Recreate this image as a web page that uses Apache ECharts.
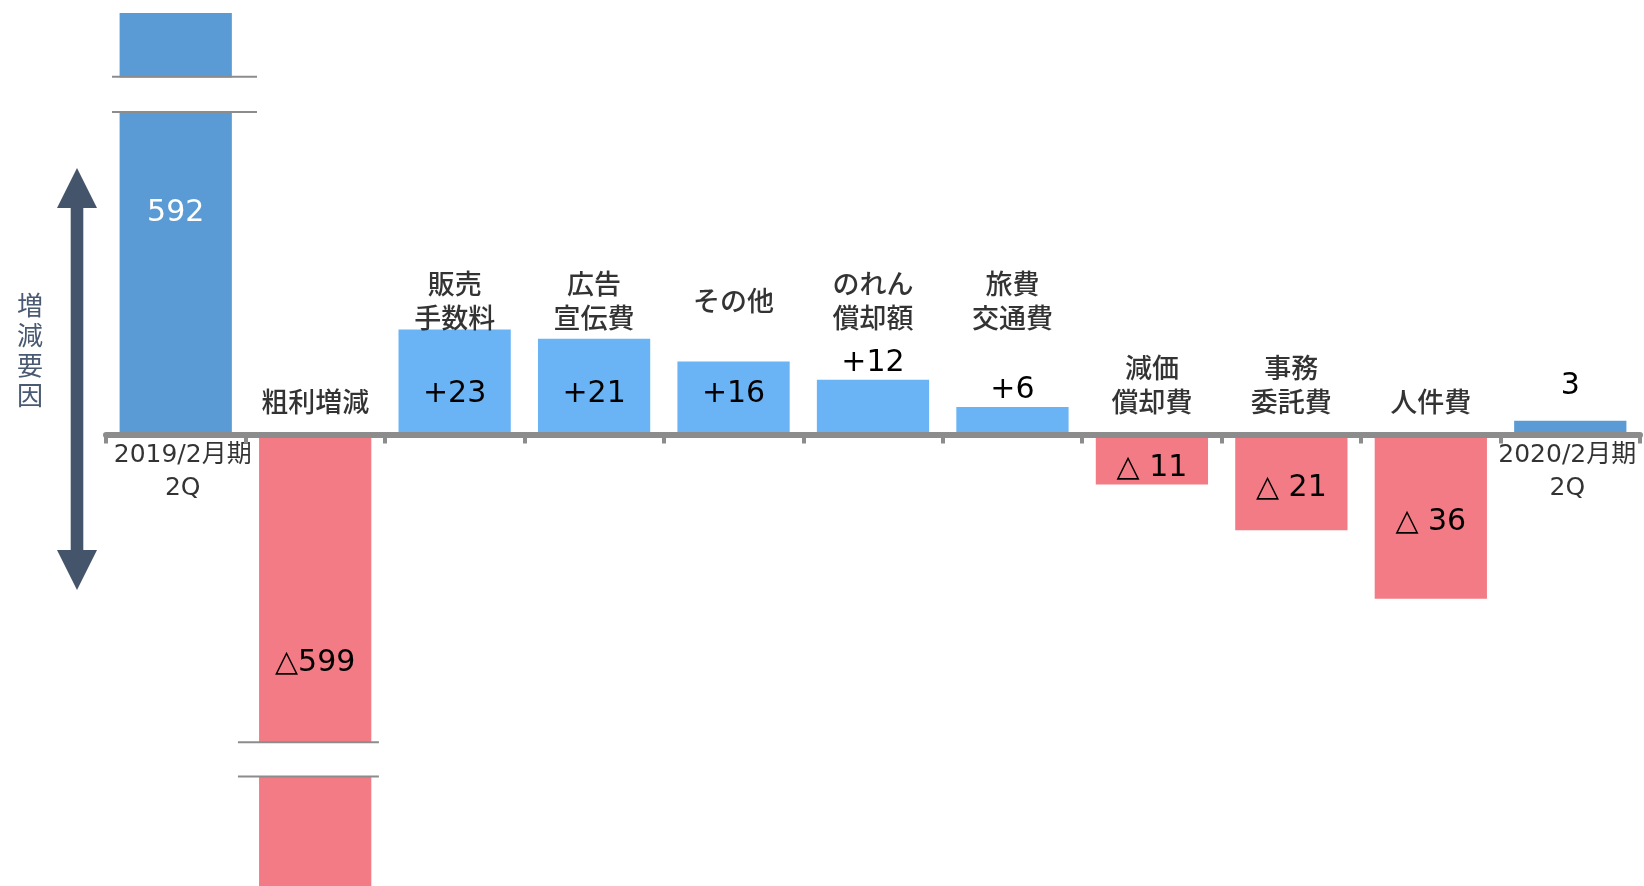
<!DOCTYPE html>
<html>
<head>
<meta charset="utf-8">
<script src="https://cdn.jsdelivr.net/npm/echarts@6/dist/echarts.min.js"></script>
<style>html,body{margin:0;padding:0;background:#fff}#c{width:1644px;height:886px}</style>
</head>
<body>
<div id="c"></div>
<script>
// ---- data ----
const categories = ['2019/2月期\n2Q', '粗利増減', '販売\n手数料', '広告\n宣伝費', 'その他', 'のれん\n償却額', '旅費\n交通費', '減価\n償却費', '事務\n委託費', '人件費', '2020/2月期\n2Q'];
const values = [592, -599, 23, 21, 16, 12, 6, -11, -21, -36, 3];
const valueLabels = ['592', '△599', '+23', '+21', '+16', '+12', '+6', '△ 11', '△ 21', '△ 36', '3'];
const xTickLabels = ['2019/2月期\n2Q', '', '', '', '', '', '', '', '', '', '2020/2月期\n2Q'];
const sideTitle = '増減要因';

// ---- styles ----
const FONT = "'DejaVu Sans','Noto Sans CJK JP',sans-serif";
const C_BASE = '#5B9BD5', C_UP = '#6AB4F5', C_DOWN = '#F37B85', C_AXIS = '#8C8C8C';
const TXT = '#000';
const last = values.length - 1;

const breaks = [
  { start: 70.7, end: 578, gap: 7.7 },
  { start: -575, end: -67.5, gap: 7.5 }
];

function barItem(v, i) {
  const isEnd = (i === 0 || i === last);
  const color = isEnd ? C_BASE : (v >= 0 ? C_UP : C_DOWN);
  let label = { show: true, formatter: valueLabels[i], fontFamily: FONT, fontSize: 30, lineHeight: 30, color: TXT, textBorderWidth: 0 };
  if (i === 0) Object.assign(label, { position: 'inside', color: '#fff', offset: [0, -11] });
  else if (i === last) Object.assign(label, { position: 'top', distance: 20 });
  else if (v >= 15) Object.assign(label, { position: 'insideBottom', distance: 25 });
  else if (v > 0) Object.assign(label, { position: 'top', distance: 2 });
  else if (v < -100) Object.assign(label, { position: 'inside', offset: [0, 3] });
  else Object.assign(label, { position: 'inside', offset: [0, v > -15 ? 9 : 6] });
  return { value: v, itemStyle: { color }, label };
}

// category name labels (above the zero line) and end tick labels (below it)
const nameData = [];
categories.forEach((c, i) => {
  if (i === 0 || i === last) {
    nameData.push({
      value: [i, 0],
      label: { formatter: xTickLabels[i], fontSize: 25, lineHeight: 33, fontWeight: 400, offset: [i === 0 ? 7 : -3, 38] }
    });
    return;
  }
  const lines = c.split('\n').length;
  const dy = values[i] > 0 ? -130 : -(29 + (lines - 1) * 17);
  nameData.push({ value: [i, 0], label: { formatter: c, offset: [0, dy] } });
});

// break edge lines (category index, axis value, left/right extent as fraction of band)
const breakLines = [
  [0, breaks[0].end, -0.457, 0.583],
  [0, breaks[0].start, -0.457, 0.583],
  [1, breaks[1].end, -0.554, 0.457],
  [1, breaks[1].start, -0.554, 0.457]
];

const chart = echarts.init(document.getElementById('c'), null, { renderer: 'canvas' });
chart.setOption({
  animation: false,
  backgroundColor: '#fff',
  grid: { left: 106, right: 4, top: 13, bottom: 0, outerBoundsMode: 'none', containLabel: false },
  xAxis: {
    type: 'category',
    data: categories,
    z: 10,
    axisLine: { onZero: true, lineStyle: { color: C_AXIS, width: 6 } },
    axisTick: { show: true, interval: 0, length: 9, lineStyle: { color: C_AXIS, width: 4 } },
    axisLabel: { show: false },
    splitLine: { show: false }
  },
  yAxis: {
    type: 'value',
    min: -599, max: 592,
    breaks: breaks,
    breakArea: {
      show: true,
      itemStyle: { color: '#fff', borderWidth: 0, borderColor: 'transparent', opacity: 1 },
      zigzagAmplitude: 0,
      expandOnClick: false
    },
    axisLine: { show: false }, axisTick: { show: false }, axisLabel: { show: false }, splitLine: { show: false }
  },
  graphic: [
    {
      type: 'polygon', silent: true,
      shape: { points: [[77,168],[97,208],[83.3,208],[83.3,550],[97,550],[77,590],[57,550],[70.7,550],[70.7,208],[57,208]] },
      style: { fill: '#44546A' }
    },
    {
      type: 'text', silent: true, x: 30, y: 350,
      style: { text: sideTitle.split('').join('\n'), fill: '#4A5A72', font: "26px 'Noto Sans CJK JP'", lineHeight: 30, align: 'center', verticalAlign: 'middle' }
    }
  ],
  series: [
    {
      type: 'bar',
      barWidth: '80.5%',
      silent: true,
      data: values.map(barItem)
    },
    {
      type: 'scatter',
      silent: true,
      symbol: 'rect', symbolSize: 1,
      itemStyle: { color: 'rgba(0,0,0,0)' },
      label: { show: true, position: 'inside', fontFamily: FONT, fontSize: 27, fontWeight: 500, lineHeight: 34, color: TXT },
      data: nameData
    },
    {
      type: 'custom',
      silent: true,
      z: 200,
      data: breakLines,
      renderItem: (params, api) => {
        const p = api.coord([api.value(0), api.value(1)]);
        const bw = api.size([1, 0])[0];
        return {
          type: 'line',
          shape: { x1: p[0] + api.value(2) * bw, y1: p[1], x2: p[0] + api.value(3) * bw, y2: p[1] },
          style: { stroke: '#8C8C8C', lineWidth: 2 }
        };
      }
    }
  ]
});
</script>
</body>
</html>
